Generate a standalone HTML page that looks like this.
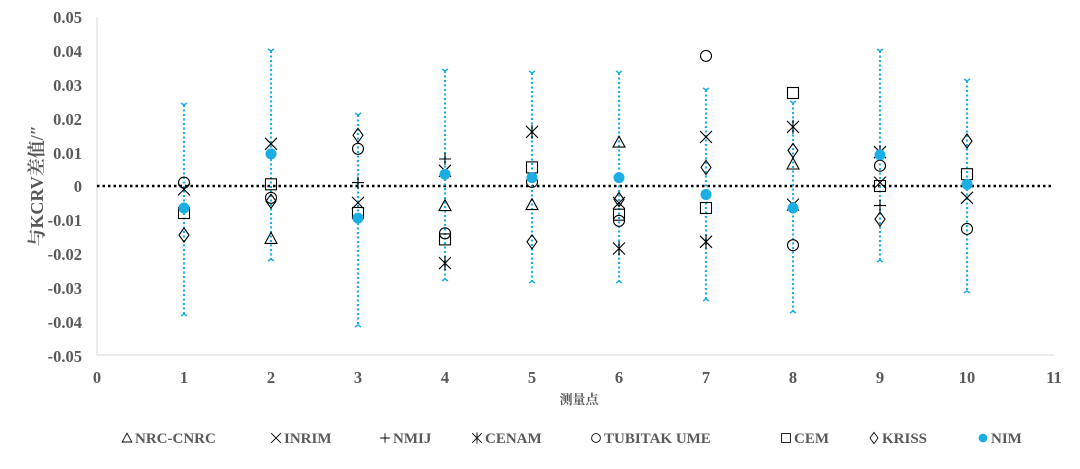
<!DOCTYPE html>
<html><head><meta charset="utf-8"><style>
body{margin:0;background:#fff;width:1080px;height:464px;overflow:hidden}
svg text{font-family:"Liberation Serif","Noto Serif CJK SC",serif;font-weight:bold;fill:#595959}
.eb{stroke:#1aaee2;stroke-width:2.2;stroke-dasharray:2,2.5}
.cap{stroke:#1aaee2;stroke-width:1.5;fill:none}
</style></head><body>
<svg width="1080" height="464" viewBox="0 0 1080 464" xmlns="http://www.w3.org/2000/svg" xmlns:xlink="http://www.w3.org/1999/xlink">
<defs>
<path id="tri" d="M0,-6 L6,5 L-6,5 Z" fill="none" stroke="#000" stroke-width="1.1"/>
<path id="xx" d="M-6,-6 L6,6 M-6,6 L6,-6" stroke="#000" stroke-width="1.1"/>
<path id="pl" d="M-6,0 L6,0 M0,-6 L0,6" stroke="#000" stroke-width="1.1"/>
<path id="ast" d="M-6,-6 L6,6 M-6,6 L6,-6 M0,-7 L0,7" stroke="#000" stroke-width="1.1"/>
<circle id="cir" r="5.5" fill="none" stroke="#000" stroke-width="1.1"/>
<rect id="sq" x="-5.5" y="-5.5" width="11" height="11" fill="none" stroke="#000" stroke-width="1.1"/>
<path id="dia" d="M0,-7 L5,0 L0,7 L-5,0 Z" fill="none" stroke="#000" stroke-width="1.1"/>
<circle id="nim" r="5.5" fill="#1aaee2"/>
</defs>
<line x1="97" y1="17" x2="97" y2="355" stroke="#d9d9d9"/>
<line x1="97" y1="355" x2="1054" y2="355" stroke="#d9d9d9"/>
<g font-size="16.5" text-anchor="end">
<text x="82" y="23">0.05</text><text x="82" y="57">0.04</text><text x="82" y="91">0.03</text><text x="82" y="125">0.02</text><text x="82" y="159">0.01</text><text x="82" y="192">0</text><text x="82" y="226">-0.01</text><text x="82" y="260">-0.02</text><text x="82" y="294">-0.03</text><text x="82" y="328">-0.04</text><text x="82" y="362">-0.05</text>
</g>
<g font-size="16.5" text-anchor="middle">
<text x="97" y="383">0</text><text x="184" y="383">1</text><text x="271" y="383">2</text><text x="358" y="383">3</text><text x="445" y="383">4</text><text x="532" y="383">5</text><text x="619" y="383">6</text><text x="706" y="383">7</text><text x="793" y="383">8</text><text x="880" y="383">9</text><text x="967" y="383">10</text><text x="1054" y="383">11</text>
</g>
<text x="579" y="404" font-size="13" text-anchor="middle">测量点</text>
<text transform="translate(43,186) rotate(-90)" font-size="18" text-anchor="middle">与KCRV差值/″</text>
<line x1="97" y1="186" x2="1054" y2="186" stroke="#000" stroke-width="2.5" stroke-dasharray="2.5,3"/>

<line class="eb" x1="184" y1="105" x2="184" y2="314"/><path class="cap" d="M181,103 L184,105 L187,103 M181,316 L184,314 L187,316"/>
<line class="eb" x1="271" y1="51" x2="271" y2="259"/><path class="cap" d="M268,49 L271,51 L274,49 M268,261 L271,259 L274,261"/>
<line class="eb" x1="358" y1="115" x2="358" y2="325"/><path class="cap" d="M355,113 L358,115 L361,113 M355,327 L358,325 L361,327"/>
<line class="eb" x1="445" y1="71" x2="445" y2="279"/><path class="cap" d="M442,69 L445,71 L448,69 M442,281 L445,279 L448,281"/>
<line class="eb" x1="532" y1="73" x2="532" y2="281"/><path class="cap" d="M529,71 L532,73 L535,71 M529,283 L532,281 L535,283"/>
<line class="eb" x1="619" y1="73" x2="619" y2="281"/><path class="cap" d="M616,71 L619,73 L622,71 M616,283 L619,281 L622,283"/>
<line class="eb" x1="706" y1="90" x2="706" y2="299"/><path class="cap" d="M703,88 L706,90 L709,88 M703,301 L706,299 L709,301"/>
<line class="eb" x1="793" y1="103" x2="793" y2="311"/><path class="cap" d="M790,101 L793,103 L796,101 M790,313 L793,311 L796,313"/>
<line class="eb" x1="880" y1="51" x2="880" y2="260"/><path class="cap" d="M877,49 L880,51 L883,49 M877,262 L880,260 L883,262"/>
<line class="eb" x1="967" y1="81" x2="967" y2="291"/><path class="cap" d="M964,79 L967,81 L970,79 M964,293 L967,291 L970,293"/>

<use href="#cir" xlink:href="#cir" x="184" y="182.6"/><use href="#xx" xlink:href="#xx" x="184" y="189.4"/><use href="#sq" xlink:href="#sq" x="184" y="213"/><use href="#dia" xlink:href="#dia" x="184" y="235"/><use href="#nim" xlink:href="#nim" x="184" y="208"/>
<use href="#xx" xlink:href="#xx" x="271" y="143.8"/><use href="#sq" xlink:href="#sq" x="271" y="184.3"/><use href="#cir" xlink:href="#cir" x="271" y="197.8"/><use href="#dia" xlink:href="#dia" x="271" y="201.2"/><use href="#tri" xlink:href="#tri" x="271" y="238.4"/><use href="#nim" xlink:href="#nim" x="271" y="153.9"/>
<use href="#dia" xlink:href="#dia" x="358" y="135.3"/><use href="#cir" xlink:href="#cir" x="358" y="148.8"/><use href="#pl" xlink:href="#pl" x="358" y="182.6"/><use href="#xx" xlink:href="#xx" x="358" y="202.9"/><use href="#sq" xlink:href="#sq" x="358" y="213"/><use href="#nim" xlink:href="#nim" x="358" y="218.1"/>
<use href="#pl" xlink:href="#pl" x="445" y="159"/><use href="#xx" xlink:href="#xx" x="445" y="170.8"/><use href="#tri" xlink:href="#tri" x="445" y="205.6"/><use href="#cir" xlink:href="#cir" x="445" y="233.3"/><use href="#sq" xlink:href="#sq" x="445" y="239.4"/><use href="#ast" xlink:href="#ast" x="445" y="263.1"/><use href="#nim" xlink:href="#nim" x="445" y="174.2"/>
<use href="#ast" xlink:href="#ast" x="532" y="131.9"/><use href="#sq" xlink:href="#sq" x="532" y="167.4"/><use href="#cir" xlink:href="#cir" x="532" y="181.9"/><use href="#tri" xlink:href="#tri" x="532" y="204.6"/><use href="#dia" xlink:href="#dia" x="532" y="241.8"/><use href="#nim" xlink:href="#nim" x="532" y="177.6"/>
<use href="#tri" xlink:href="#tri" x="619" y="142.1"/><use href="#dia" xlink:href="#dia" x="619" y="199.5"/><use href="#xx" xlink:href="#xx" x="619" y="202.9"/><use href="#sq" xlink:href="#sq" x="619" y="214.7"/><use href="#cir" xlink:href="#cir" x="619" y="220.8"/><use href="#ast" xlink:href="#ast" x="619" y="248.5"/><use href="#nim" xlink:href="#nim" x="619" y="177.6"/>
<use href="#cir" xlink:href="#cir" x="706" y="55.9"/><use href="#xx" xlink:href="#xx" x="706" y="137"/><use href="#dia" xlink:href="#dia" x="706" y="167.4"/><use href="#sq" xlink:href="#sq" x="706" y="208"/><use href="#ast" xlink:href="#ast" x="706" y="241.8"/><use href="#nim" xlink:href="#nim" x="706" y="194.5"/>
<use href="#sq" xlink:href="#sq" x="793" y="93"/><use href="#ast" xlink:href="#ast" x="793" y="126.9"/><use href="#dia" xlink:href="#dia" x="793" y="150.5"/><use href="#tri" xlink:href="#tri" x="793" y="164"/><use href="#xx" xlink:href="#xx" x="793" y="204.6"/><use href="#cir" xlink:href="#cir" x="793" y="245.2"/><use href="#nim" xlink:href="#nim" x="793" y="208"/>
<use href="#ast" xlink:href="#ast" x="880" y="152.2"/><use href="#cir" xlink:href="#cir" x="880" y="165.7"/><use href="#xx" xlink:href="#xx" x="880" y="182.6"/><use href="#sq" xlink:href="#sq" x="880" y="186"/><use href="#pl" xlink:href="#pl" x="880" y="205.6"/><use href="#dia" xlink:href="#dia" x="880" y="219.1"/><use href="#nim" xlink:href="#nim" x="880" y="154.9"/>
<use href="#dia" xlink:href="#dia" x="967" y="141"/><use href="#sq" xlink:href="#sq" x="967" y="174.2"/><use href="#xx" xlink:href="#xx" x="967" y="197.8"/><use href="#cir" xlink:href="#cir" x="967" y="228.9"/><use href="#nim" xlink:href="#nim" x="967" y="184.3"/>

<g font-size="15">
<g transform="translate(127,438) scale(0.8)"><use href="#tri" xlink:href="#tri"/></g><text x="135" y="443">NRC-CNRC</text>
<g transform="translate(276,438) scale(0.8)"><use href="#xx" xlink:href="#xx"/></g><text x="284" y="443">INRIM</text>
<g transform="translate(385,438) scale(0.8)"><use href="#pl" xlink:href="#pl"/></g><text x="393" y="443">NMIJ</text>
<g transform="translate(477,438) scale(0.8)"><use href="#ast" xlink:href="#ast"/></g><text x="485" y="443">CENAM</text>
<g transform="translate(596,438) scale(0.8)"><use href="#cir" xlink:href="#cir"/></g><text x="604" y="443">TUBITAK UME</text>
<g transform="translate(786,438) scale(0.8)"><use href="#sq" xlink:href="#sq"/></g><text x="794" y="443">CEM</text>
<g transform="translate(874,438) scale(0.8)"><use href="#dia" xlink:href="#dia"/></g><text x="882" y="443">KRISS</text>
<g transform="translate(983,438) scale(0.8)"><use href="#nim" xlink:href="#nim"/></g><text x="991" y="443">NIM</text>
</g>
</svg>
</body></html>
